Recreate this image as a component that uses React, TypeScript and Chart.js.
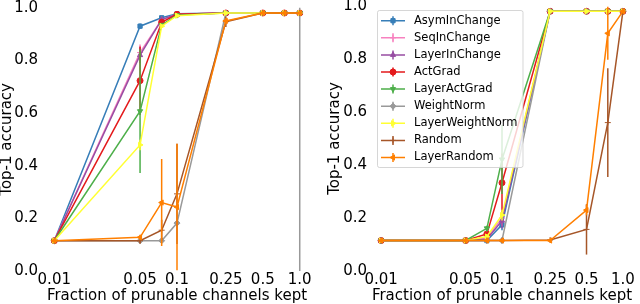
import React, { useEffect, useRef } from "react";
import { Chart, registerables } from "chart.js";
import { drawPoint } from "chart.js/helpers";

Chart.register(...registerables);

const FONT = "'DejaVu Sans', sans-serif";

// ---------- shared axes / categories ----------
const xValues = [0.01, 0.05, 0.075, 0.1, 0.25, 0.5, 0.75, 1.0];
const xTickValues = [0.01, 0.05, 0.1, 0.25, 0.5, 1.0];
const xTickLabels = ["0.01", "0.05", "0.1", "0.25", "0.5", "1.0"];
const yTickValues = [0, 0.2, 0.4, 0.6, 0.8, 1.0];
const yTickLabels = ["0.0", "0.2", "0.4", "0.6", "0.8", "1.0"];
const xAxisTitle = "Fraction of prunable channels kept";
const yAxisTitle = "Top-1 accuracy";

const seriesNames = [
  "AsymInChange",
  "SeqInChange",
  "LayerInChange",
  "ActGrad",
  "LayerActGrad",
  "WeightNorm",
  "LayerWeightNorm",
  "Random",
  "LayerRandom",
];
const seriesColors = [
  "#377eb8",
  "#f781bf",
  "#984ea3",
  "#e41a1c",
  "#4daf4a",
  "#999999",
  "#ffff33",
  "#a65628",
  "#ff7f00",
];
const seriesMarkers = ["rect", "cross", "triangle", "circle", "triangle", "rectRot", "triangle", "cross", "triangle"];
const seriesMarkerRotation = [0, 0, 0, 0, 180, 0, 90, 0, 270];

// ---------- left panel values ----------
const leftAsymInChange = [0.115, 0.93, 0.962, 0.977, 0.98, 0.98, 0.98, 0.98];
const leftSeqInChange = [0.115, 0.83, 0.955, 0.975, 0.98, 0.98, 0.98, 0.98];
const leftLayerInChange = [0.115, 0.82, 0.955, 0.975, 0.98, 0.98, 0.98, 0.98];
const leftActGrad = [0.115, 0.723, 0.945, 0.975, 0.98, 0.98, 0.98, 0.98];
const leftLayerActGrad = [0.115, 0.607, 0.935, 0.972, 0.98, 0.98, 0.98, 0.98];
const leftWeightNorm = [0.115, 0.115, 0.115, 0.182, 0.98, 0.98, 0.98, 0.98];
const leftLayerWeightNorm = [0.115, 0.479, 0.93, 0.97, 0.98, 0.98, 0.98, 0.98];
const leftRandom = [0.115, 0.115, 0.155, 0.293, 0.947, 0.98, 0.98, 0.98];
const leftLayerRandom = [0.115, 0.128, 0.26, 0.243, 0.95, 0.98, 0.98, 0.98];

// left panel error bars (half widths)
const leftAsymInChangeErr = [0, 0.01, 0, 0, 0, 0, 0, 0];
const leftSeqInChangeErr = [0, 0.03, 0, 0, 0, 0, 0, 0];
const leftLayerInChangeErr = [0, 0.03, 0, 0, 0, 0, 0, 0];
const leftActGradErr = [0, 0.13, 0, 0, 0, 0, 0, 0];
const leftLayerActGradErr = [0, 0.235, 0, 0, 0, 0, 0, 0];
const leftWeightNormErr = [0, 0, 0, 0, 0, 0, 0, 1.0];
const leftLayerWeightNormErr = [0, 0.02, 0, 0, 0, 0, 0, 0];
const leftRandomErr = [0, 0.01, 0.04, 0.19, 0.02, 0, 0, 0];
const leftLayerRandomErr = [0, 0.01, 0.165, 0.24, 0.01, 0, 0, 0];

// ---------- right panel values ----------
const rightAsymInChange = [0.115, 0.115, 0.115, 0.174, 0.98, 0.98, 0.98, 0.98];
const rightSeqInChange = [0.115, 0.115, 0.125, 0.2, 0.98, 0.98, 0.98, 0.98];
const rightLayerInChange = [0.115, 0.115, 0.12, 0.19, 0.98, 0.98, 0.98, 0.98];
const rightActGrad = [0.115, 0.115, 0.14, 0.333, 0.98, 0.98, 0.98, 0.98];
const rightLayerActGrad = [0.115, 0.115, 0.161, 0.421, 0.98, 0.98, 0.98, 0.98];
const rightWeightNorm = [0.115, 0.115, 0.115, 0.115, 0.98, 0.98, 0.98, 0.98];
const rightLayerWeightNorm = [0.115, 0.115, 0.13, 0.211, 0.98, 0.98, 0.98, 0.98];
const rightRandom = [0.115, 0.115, 0.115, 0.115, 0.117, 0.157, 0.56, 0.98];
const rightLayerRandom = [0.115, 0.115, 0.115, 0.115, 0.115, 0.23, 0.897, 0.98];

// right panel error bars (half widths)
const rightAsymInChangeErr = [0, 0, 0, 0.02, 0, 0, 0, 0];
const rightSeqInChangeErr = [0, 0, 0, 0.03, 0, 0, 0, 0];
const rightLayerInChangeErr = [0, 0, 0, 0.03, 0, 0, 0, 0];
const rightActGradErr = [0, 0, 0.01, 0.11, 0, 0, 0, 0];
const rightLayerActGradErr = [0, 0, 0.01, 0.13, 0, 0, 0, 0];
const rightWeightNormErr = [0, 0, 0, 0, 0, 0, 0, 0];
const rightLayerWeightNormErr = [0, 0, 0, 0.02, 0, 0, 0, 0];
const rightRandomErr = [0, 0, 0, 0, 0, 0.095, 0.205, 0];
const rightLayerRandomErr = [0, 0, 0, 0, 0, 0.02, 0.1, 0];

const leftValues = [
  leftAsymInChange, leftSeqInChange, leftLayerInChange, leftActGrad, leftLayerActGrad,
  leftWeightNorm, leftLayerWeightNorm, leftRandom, leftLayerRandom,
];
const leftErrors = [
  leftAsymInChangeErr, leftSeqInChangeErr, leftLayerInChangeErr, leftActGradErr, leftLayerActGradErr,
  leftWeightNormErr, leftLayerWeightNormErr, leftRandomErr, leftLayerRandomErr,
];
const rightValues = [
  rightAsymInChange, rightSeqInChange, rightLayerInChange, rightActGrad, rightLayerActGrad,
  rightWeightNorm, rightLayerWeightNorm, rightRandom, rightLayerRandom,
];
const rightErrors = [
  rightAsymInChangeErr, rightSeqInChangeErr, rightLayerInChangeErr, rightActGradErr, rightLayerActGradErr,
  rightWeightNormErr, rightLayerWeightNormErr, rightRandomErr, rightLayerRandomErr,
];

// ---------- plugins ----------
const errorBarPlugin = {
  id: "errorBars",
  beforeDatasetDraw(chart: any, args: any) {
    const ds = chart.data.datasets[args.index];
    const errs = ds.errors as number[] | undefined;
    if (!errs) return;
    const ctx = chart.ctx;
    const xs = chart.scales.x;
    const ys = chart.scales.y;
    const a = chart.chartArea;
    ctx.save();
    ctx.beginPath();
    ctx.rect(a.left, a.top, a.right - a.left, a.bottom - a.top);
    ctx.clip();
    ctx.strokeStyle = ds.borderColor;
    ctx.lineWidth = 1.5;
    ds.data.forEach((p: any, i: number) => {
      const e = errs[i];
      if (!e) return;
      const px = xs.getPixelForValue(p.x);
      ctx.beginPath();
      ctx.moveTo(px, ys.getPixelForValue(p.y - e));
      ctx.lineTo(px, ys.getPixelForValue(p.y + e));
      ctx.stroke();
    });
    ctx.restore();
  },
};

const customLegendPlugin = {
  id: "customLegend",
  afterDatasetsDraw(chart: any, _args: any, opts: any) {
    if (!opts || !opts.show) return;
    const ctx = chart.ctx;
    const a = chart.chartArea;
    const fontSize = 11.5;
    const rowH = 17.1;
    ctx.save();
    ctx.font = `${fontSize}px ${FONT}`;
    let maxW = 0;
    seriesNames.forEach((n) => (maxW = Math.max(maxW, ctx.measureText(n).width)));
    const left = a.left + 8;
    const top = a.top + 4;
    const width = 37 + maxW + 5;
    const height = 10.7 + (seriesNames.length - 1) * rowH + 9.5;
    ctx.beginPath();
    (ctx as any).roundRect(left + 0.5, top + 0.5, width, height, 2);
    ctx.fillStyle = "rgba(255,255,255,0.8)";
    ctx.fill();
    ctx.strokeStyle = "rgba(204,204,204,0.8)";
    ctx.lineWidth = 1;
    ctx.stroke();
    seriesNames.forEach((name, i) => {
      const y = top + 10.7 + i * rowH;
      const x0 = left + 4;
      const x1 = x0 + 24;
      const cx = (x0 + x1) / 2;
      const c = seriesColors[i];
      ctx.strokeStyle = c;
      ctx.fillStyle = c;
      ctx.lineWidth = 1.5;
      ctx.beginPath();
      ctx.moveTo(x0, y);
      ctx.lineTo(x1, y);
      ctx.moveTo(cx, y - 4.5);
      ctx.lineTo(cx, y + 4.5);
      ctx.stroke();
      ctx.lineWidth = 1;
      drawPoint(ctx, { pointStyle: seriesMarkers[i], rotation: seriesMarkerRotation[i], radius: 3, borderWidth: 1 } as any, cx, y);
      ctx.fillStyle = "#000";
      ctx.textBaseline = "middle";
      ctx.textAlign = "left";
      ctx.font = `${fontSize}px ${FONT}`;
      ctx.fillText(name, left + 37, y);
    });
    ctx.restore();
  },
};

type PanelLayout = {
  yWidth: number;
  rightPad: number;
  tickPad: number;
  titlePad: number;
  legend: boolean;
};

function makeConfig(values: number[][], errors: number[][], lay: PanelLayout): any {
  const datasets = seriesNames.map((name, i) => ({
    label: name,
    data: xValues.map((x, j) => ({ x, y: values[i][j] })),
    errors: errors[i],
    borderColor: seriesColors[i],
    backgroundColor: seriesColors[i],
    pointBackgroundColor: seriesColors[i],
    pointBorderColor: seriesColors[i],
    pointStyle: seriesMarkers[i],
    pointRotation: seriesMarkerRotation[i],
    pointRadius: 3,
    pointBorderWidth: 1,
    borderWidth: 1.5,
    tension: 0,
    fill: false,
    order: -i,
  }));
  return {
    type: "line",
    data: { datasets },
    plugins: [errorBarPlugin, customLegendPlugin],
    options: {
      animation: false,
      responsive: false,
      devicePixelRatio: 1,
      events: [],
      layout: { padding: { left: 0, right: lay.rightPad, top: 6, bottom: 0 } },
      plugins: {
        legend: { display: false },
        tooltip: { enabled: false },
        customLegend: { show: lay.legend },
      },
      scales: {
        x: {
          type: "logarithmic",
          min: Math.pow(10, -2.1),
          max: Math.pow(10, 0.1),
          bounds: "data",
          grid: { display: false, drawTicks: false },
          border: { display: false },
          afterBuildTicks: (s: any) => {
            s.ticks = xTickValues.map((v) => ({ value: v }));
          },
          afterFit: (s: any) => {
            s.height = 33;
          },
          ticks: {
            autoSkip: false,
            maxRotation: 0,
            minRotation: 0,
            padding: 0,
            color: "#000",
            font: { family: FONT, size: 15 },
            callback: (v: number) => {
              const k = xTickValues.findIndex((t) => Math.abs(t - v) < 1e-9);
              return k >= 0 ? xTickLabels[k] : "";
            },
          },
          title: {
            display: true,
            text: xAxisTitle,
            color: "#000",
            font: { family: FONT, size: 15, lineHeight: 1 },
            padding: { top: 0, bottom: 0 },
          },
        },
        y: {
          type: "linear",
          min: 0,
          max: 1,
          grid: { display: false, drawTicks: false },
          border: { display: false },
          afterBuildTicks: (s: any) => {
            s.ticks = yTickValues.map((v) => ({ value: v }));
          },
          afterFit: (s: any) => {
            s.width = lay.yWidth;
          },
          ticks: {
            padding: lay.tickPad,
            color: "#000",
            font: { family: FONT, size: 15, lineHeight: 0.5 },
            callback: (v: number) => {
              const k = yTickValues.findIndex((t) => Math.abs(t - v) < 1e-9);
              return k >= 0 ? yTickLabels[k] : "";
            },
          },
          title: {
            display: true,
            text: yAxisTitle,
            color: "#000",
            font: { family: FONT, size: 15, lineHeight: 1 },
            padding: { top: lay.titlePad, bottom: 0 },
          },
        },
      },
    },
  };
}

function Panel(props: { values: number[][]; errors: number[][]; layout: PanelLayout; left: number }) {
  const ref = useRef<HTMLCanvasElement | null>(null);
  useEffect(() => {
    if (!ref.current) return;
    const chart = new Chart(ref.current, makeConfig(props.values, props.errors, props.layout));
    return () => chart.destroy();
  }, []);
  return (
    <canvas
      ref={ref}
      width={320}
      height={304}
      style={{ position: "absolute", left: props.left, top: 0, width: 320, height: 304, display: "block" }}
    />
  );
}

export default function App() {
  return (
    <div style={{ position: "fixed", left: 0, top: 0, width: 640, height: 304, background: "#fff" }}>
      <Panel
        values={leftValues}
        errors={leftErrors}
        left={0}
        layout={{ yWidth: 42, rightPad: 8, tickPad: 4, titlePad: 0, legend: false }}
      />
      <Panel
        values={rightValues}
        errors={rightErrors}
        left={320}
        layout={{ yWidth: 49, rightPad: 0, tickPad: 2, titlePad: 7.5, legend: true }}
      />
    </div>
  );
}
